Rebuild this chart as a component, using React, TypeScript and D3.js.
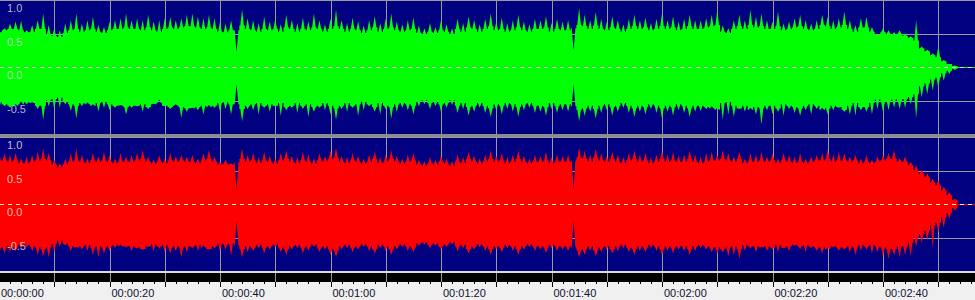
import React from "react";
import * as d3 from "d3";

// ---- data: one value per second of audio (amplitude 0..1) ----
// spike peaks above / below the centre line, and the dense "body" level
const greenUpper = [
  0.53, 0.58, 0.65, 0.68, 0.69, 0.55, 0.63, 0.70, 0.80, 0.63,
  0.58, 0.55, 0.65, 0.70, 0.80, 0.65, 0.70, 0.75, 0.63, 0.60,
  0.68, 0.70, 0.73, 0.80, 0.70, 0.73, 0.70, 0.78, 0.68, 0.70,
  0.73, 0.75, 0.70, 0.73, 0.78, 0.80, 0.75, 0.73, 0.78, 0.73,
  0.68, 0.65, 0.70, 0.22, 0.86, 0.73, 0.70, 0.66, 0.75, 0.68,
  0.72, 0.64, 0.78, 0.70, 0.66, 0.74, 0.68, 0.80, 0.70, 0.64,
  0.72, 0.86, 0.70, 0.66, 0.74, 0.68, 0.62, 0.70, 0.76, 0.66,
  0.72, 0.80, 0.68, 0.64, 0.70, 0.74, 0.62, 0.58, 0.66, 0.60,
  0.70, 0.64, 0.58, 0.72, 0.66, 0.76, 0.70, 0.64, 0.72, 0.80,
  0.68, 0.74, 0.66, 0.70, 0.78, 0.68, 0.64, 0.72, 0.70, 0.76,
  0.66, 0.72, 0.68, 0.70, 0.25, 0.88, 0.78, 0.70, 0.82, 0.72,
  0.68, 0.76, 0.70, 0.64, 0.72, 0.78, 0.70, 0.74, 0.66, 0.72,
  0.80, 0.70, 0.76, 0.68, 0.72, 0.78, 0.70, 0.70, 0.73, 0.78,
  0.85, 0.63, 0.58, 0.70, 0.78, 0.70, 0.85, 0.75, 0.80, 0.70,
  0.68, 0.83, 0.65, 0.68, 0.73, 0.78, 0.70, 0.65, 0.70, 0.78,
  0.75, 0.70, 0.73, 0.83, 0.70, 0.63, 0.73, 0.75, 0.60, 0.50,
  0.58, 0.55, 0.53, 0.55, 0.50, 0.46, 0.70, 0.31, 0.26, 0.21,
  0.31, 0.11, 0.05, 0.025, 0.0,
];
const greenLower = [
  0.63, 0.58, 0.60, 0.55, 0.50, 0.55, 0.52, 0.62, 0.78, 0.58,
  0.62, 0.60, 0.55, 0.65, 0.76, 0.58, 0.52, 0.55, 0.66, 0.60,
  0.64, 0.60, 0.56, 0.70, 0.60, 0.58, 0.66, 0.62, 0.54, 0.48,
  0.58, 0.62, 0.55, 0.75, 0.66, 0.60, 0.64, 0.70, 0.56, 0.60,
  0.66, 0.62, 0.70, 0.25, 0.80, 0.62, 0.64, 0.70, 0.60, 0.66,
  0.58, 0.72, 0.64, 0.60, 0.68, 0.62, 0.74, 0.66, 0.60, 0.64,
  0.70, 0.78, 0.62, 0.66, 0.60, 0.72, 0.64, 0.58, 0.66, 0.70,
  0.62, 0.76, 0.66, 0.60, 0.64, 0.70, 0.58, 0.55, 0.62, 0.58,
  0.66, 0.60, 0.56, 0.68, 0.62, 0.72, 0.66, 0.60, 0.68, 0.74,
  0.64, 0.70, 0.62, 0.66, 0.74, 0.64, 0.60, 0.68, 0.66, 0.72,
  0.62, 0.68, 0.64, 0.66, 0.25, 0.80, 0.72, 0.66, 0.76, 0.68,
  0.64, 0.72, 0.66, 0.60, 0.68, 0.74, 0.66, 0.70, 0.62, 0.68,
  0.76, 0.66, 0.72, 0.64, 0.68, 0.74, 0.66, 0.65, 0.62, 0.58,
  0.60, 0.78, 0.70, 0.74, 0.62, 0.66, 0.60, 0.70, 0.85, 0.64,
  0.70, 0.66, 0.72, 0.62, 0.68, 0.72, 0.64, 0.70, 0.62, 0.60,
  0.70, 0.64, 0.60, 0.66, 0.70, 0.72, 0.64, 0.66, 0.70, 0.62,
  0.66, 0.64, 0.60, 0.62, 0.60, 0.55, 0.76, 0.45, 0.40, 0.34,
  0.30, 0.20, 0.10, 0.04, 0.0,
];
const greenBody = [
  0.52, 0.55, 0.57, 0.57, 0.55, 0.52, 0.53, 0.57, 0.57, 0.49,
  0.47, 0.45, 0.51, 0.55, 0.57, 0.53, 0.55, 0.57, 0.53, 0.51,
  0.55, 0.57, 0.57, 0.59, 0.57, 0.57, 0.55, 0.59, 0.55, 0.53,
  0.57, 0.59, 0.57, 0.59, 0.61, 0.61, 0.59, 0.57, 0.59, 0.57,
  0.53, 0.52, 0.55, 0.55, 0.62, 0.57, 0.55, 0.53, 0.57, 0.55,
  0.57, 0.53, 0.59, 0.57, 0.53, 0.57, 0.55, 0.59, 0.57, 0.53,
  0.57, 0.61, 0.57, 0.53, 0.57, 0.55, 0.51, 0.55, 0.59, 0.53,
  0.57, 0.59, 0.55, 0.53, 0.55, 0.57, 0.51, 0.49, 0.53, 0.51,
  0.55, 0.53, 0.49, 0.57, 0.53, 0.59, 0.57, 0.53, 0.57, 0.61,
  0.55, 0.57, 0.53, 0.55, 0.59, 0.55, 0.53, 0.57, 0.57, 0.59,
  0.53, 0.57, 0.55, 0.55, 0.58, 0.63, 0.61, 0.57, 0.62, 0.57,
  0.55, 0.59, 0.57, 0.53, 0.57, 0.61, 0.57, 0.59, 0.55, 0.57,
  0.61, 0.57, 0.59, 0.55, 0.57, 0.61, 0.57, 0.57, 0.59, 0.61,
  0.63, 0.53, 0.51, 0.57, 0.61, 0.57, 0.63, 0.59, 0.61, 0.57,
  0.57, 0.61, 0.55, 0.57, 0.59, 0.61, 0.57, 0.55, 0.57, 0.63,
  0.61, 0.57, 0.59, 0.63, 0.57, 0.53, 0.59, 0.59, 0.53, 0.48,
  0.52, 0.50, 0.48, 0.50, 0.47, 0.44, 0.40, 0.28, 0.24, 0.18,
  0.15, 0.09, 0.05, 0.02, 0.0,
];
const redUpper = [
  0.78, 0.76, 0.73, 0.76, 0.68, 0.71, 0.73, 0.78, 0.83, 0.76,
  0.66, 0.61, 0.68, 0.76, 0.83, 0.73, 0.68, 0.76, 0.71, 0.78,
  0.73, 0.68, 0.76, 0.71, 0.73, 0.76, 0.81, 0.71, 0.66, 0.73,
  0.68, 0.76, 0.71, 0.73, 0.71, 0.73, 0.68, 0.76, 0.81, 0.71,
  0.63, 0.66, 0.61, 0.20, 0.83, 0.73, 0.76, 0.70, 0.78, 0.72,
  0.68, 0.76, 0.80, 0.72, 0.70, 0.78, 0.74, 0.68, 0.76, 0.72,
  0.80, 0.84, 0.72, 0.70, 0.76, 0.72, 0.68, 0.74, 0.78, 0.70,
  0.74, 0.80, 0.72, 0.68, 0.74, 0.76, 0.66, 0.64, 0.70, 0.66,
  0.72, 0.68, 0.64, 0.74, 0.70, 0.78, 0.72, 0.68, 0.74, 0.80,
  0.72, 0.76, 0.70, 0.74, 0.80, 0.72, 0.68, 0.74, 0.72, 0.78,
  0.70, 0.74, 0.72, 0.74, 0.22, 0.84, 0.80, 0.74, 0.82, 0.76,
  0.72, 0.78, 0.74, 0.70, 0.76, 0.80, 0.74, 0.76, 0.70, 0.74,
  0.80, 0.74, 0.78, 0.72, 0.74, 0.80, 0.74, 0.71, 0.76, 0.78,
  0.73, 0.81, 0.76, 0.71, 0.78, 0.68, 0.76, 0.73, 0.78, 0.71,
  0.76, 0.68, 0.76, 0.73, 0.71, 0.76, 0.68, 0.71, 0.73, 0.76,
  0.81, 0.73, 0.78, 0.76, 0.71, 0.73, 0.68, 0.73, 0.66, 0.71,
  0.73, 0.76, 0.81, 0.68, 0.71, 0.63, 0.58, 0.51, 0.46, 0.38,
  0.36, 0.26, 0.18, 0.08, 0.0,
];
const redLower = [
  0.79, 0.74, 0.72, 0.70, 0.66, 0.64, 0.70, 0.76, 0.78, 0.80,
  0.72, 0.64, 0.62, 0.70, 0.64, 0.68, 0.70, 0.76, 0.80, 0.74,
  0.70, 0.66, 0.60, 0.64, 0.70, 0.66, 0.68, 0.64, 0.70, 0.66,
  0.72, 0.74, 0.70, 0.80, 0.72, 0.66, 0.70, 0.62, 0.68, 0.66,
  0.70, 0.68, 0.78, 0.25, 0.80, 0.72, 0.70, 0.66, 0.74, 0.68,
  0.64, 0.72, 0.76, 0.68, 0.66, 0.74, 0.70, 0.64, 0.72, 0.68,
  0.76, 0.80, 0.68, 0.66, 0.72, 0.68, 0.64, 0.70, 0.74, 0.66,
  0.70, 0.76, 0.68, 0.64, 0.70, 0.72, 0.62, 0.60, 0.66, 0.62,
  0.68, 0.64, 0.60, 0.70, 0.66, 0.74, 0.68, 0.64, 0.70, 0.76,
  0.68, 0.72, 0.66, 0.70, 0.76, 0.68, 0.64, 0.70, 0.68, 0.74,
  0.66, 0.70, 0.68, 0.70, 0.25, 0.80, 0.76, 0.70, 0.78, 0.72,
  0.68, 0.74, 0.70, 0.66, 0.72, 0.76, 0.70, 0.72, 0.66, 0.70,
  0.76, 0.70, 0.74, 0.68, 0.70, 0.76, 0.70, 0.66, 0.68, 0.72,
  0.74, 0.72, 0.78, 0.76, 0.82, 0.70, 0.66, 0.72, 0.64, 0.70,
  0.68, 0.72, 0.66, 0.70, 0.62, 0.68, 0.72, 0.66, 0.70, 0.74,
  0.66, 0.64, 0.70, 0.68, 0.72, 0.76, 0.70, 0.68, 0.74, 0.72,
  0.78, 0.82, 0.76, 0.80, 0.76, 0.78, 0.64, 0.58, 0.55, 0.66,
  0.42, 0.36, 0.22, 0.10, 0.0,
];
const redBody = [
  0.65, 0.65, 0.63, 0.65, 0.61, 0.61, 0.63, 0.65, 0.67, 0.65,
  0.59, 0.55, 0.59, 0.63, 0.65, 0.63, 0.61, 0.65, 0.63, 0.65,
  0.63, 0.61, 0.63, 0.63, 0.63, 0.65, 0.67, 0.63, 0.60, 0.63,
  0.61, 0.65, 0.63, 0.65, 0.63, 0.63, 0.61, 0.65, 0.67, 0.63,
  0.59, 0.60, 0.59, 0.62, 0.67, 0.63, 0.65, 0.61, 0.65, 0.63,
  0.60, 0.65, 0.67, 0.63, 0.61, 0.65, 0.63, 0.60, 0.65, 0.63,
  0.67, 0.69, 0.63, 0.61, 0.65, 0.63, 0.60, 0.63, 0.67, 0.61,
  0.63, 0.67, 0.63, 0.60, 0.63, 0.65, 0.59, 0.57, 0.61, 0.59,
  0.63, 0.60, 0.57, 0.63, 0.61, 0.67, 0.63, 0.60, 0.63, 0.67,
  0.63, 0.65, 0.61, 0.63, 0.67, 0.63, 0.60, 0.63, 0.63, 0.65,
  0.61, 0.63, 0.63, 0.63, 0.65, 0.69, 0.67, 0.63, 0.69, 0.65,
  0.63, 0.67, 0.63, 0.61, 0.65, 0.67, 0.63, 0.65, 0.61, 0.63,
  0.67, 0.63, 0.65, 0.63, 0.63, 0.67, 0.63, 0.61, 0.63, 0.65,
  0.65, 0.67, 0.65, 0.63, 0.67, 0.61, 0.63, 0.63, 0.65, 0.63,
  0.65, 0.61, 0.65, 0.63, 0.61, 0.63, 0.61, 0.63, 0.65, 0.65,
  0.67, 0.63, 0.65, 0.65, 0.63, 0.65, 0.61, 0.63, 0.61, 0.63,
  0.65, 0.67, 0.67, 0.63, 0.63, 0.58, 0.50, 0.45, 0.40, 0.32,
  0.28, 0.20, 0.13, 0.06, 0.0,
];

const timeLabelSeconds = [0, 20, 40, 60, 80, 100, 120, 140, 160];
const timeLabels = [
  "00:00:00", "00:00:20", "00:00:40", "00:01:00", "00:01:20",
  "00:01:40", "00:02:00", "00:02:20", "00:02:40",
];
const ampLabelValues = [1.0, 0.5, 0.0, -0.5];
const ampLabels = ["1.0", "0.5", "0.0", "-0.5"];

// ---- layout ----
const W = 975;
const H = 300;
const NAVY = "#000080";
const GRID = "#9a9a9a";
const FONT = "'Liberation Sans', Arial, sans-serif";
const SPIKE = 0.33; // half-width of a peak, in seconds

const x = d3.scaleLinear().domain([0, 176.65]).range([-1, 975]);
const yTop = d3.scaleLinear().domain([-1, 1]).range([134.6, 0]);
const yBot = d3.scaleLinear().domain([-1, 1]).range([271, 137]);

type Panel = {
  y: d3.ScaleLinear<number, number>;
  upper: number[];
  lower: number[];
  body: number[];
  color: string;
  dash: string;
  label: string;
  top: number;
  bottom: number;
};

const panels: Panel[] = [
  { y: yTop, upper: greenUpper, lower: greenLower, body: greenBody, color: "#00ff00", dash: "#dcdcdc", label: "#d8d8d8", top: 0, bottom: 134 },
  { y: yBot, upper: redUpper, lower: redLower, body: redBody, color: "#ff0000", dash: "#f4ecb8", label: "#e8e0c8", top: 137, bottom: 271 },
];

const majorTicks = d3.range(0, 177, 10);
const minorTicks = d3.range(0, 177, 2).filter((t) => t % 10 !== 0);

type Pt = { t: number; up: number; lo: number };

// each second: dense body level, with the second's peak (or dip) at its centre
function buildPoints(p: Panel): Pt[] {
  const pts: Pt[] = [];
  p.upper.forEach((u, i) => {
    const b = p.body[i];
    pts.push({ t: i - 0.5, up: b, lo: b });
    pts.push({ t: i - SPIKE, up: b, lo: b });
    pts.push({ t: i, up: u, lo: p.lower[i] });
    pts.push({ t: i + SPIKE, up: b, lo: b });
    pts.push({ t: i + 0.5, up: b, lo: b });
  });
  return pts.filter((d) => d.t >= 0);
}

function PanelView({ p }: { p: Panel }) {
  const area = d3
    .area<Pt>()
    .x((d) => x(d.t))
    .y0((d) => p.y(-d.lo))
    .y1((d) => p.y(d.up))
    .curve(d3.curveLinear);
  const c = Math.round(p.y(0)) + 0.5;
  return (
    <g>
      <rect x={0} y={p.top} width={W} height={p.bottom - p.top} fill={NAVY} />
      {majorTicks.map((t) => (
        <line key={t} x1={Math.round(x(t)) + 0.5} x2={Math.round(x(t)) + 0.5} y1={p.top} y2={p.bottom} stroke={GRID} strokeWidth={1} />
      ))}
      {[0.5, -0.5, 1].map((v) => (
        <line key={v} x1={0} x2={W} y1={Math.round(p.y(v)) + 0.5} y2={Math.round(p.y(v)) + 0.5} stroke={GRID} strokeWidth={1} />
      ))}
      <line x1={0} x2={W} y1={c} y2={c} stroke={p.color} strokeWidth={1} />
      <path d={area(buildPoints(p)) || ""} fill={p.color} />
      <line x1={0} x2={W} y1={c} y2={c} stroke={p.dash} strokeWidth={1} strokeDasharray="4,4" />
      {ampLabelValues.map((v, i) => (
        <text key={v} x={7} y={Math.round(p.y(v)) + 12} fontFamily={FONT} fontSize={11} fill={p.label} fillOpacity={0.85}>
          {ampLabels[i]}
        </text>
      ))}
    </g>
  );
}

export default function App() {
  return (
    <svg width={W} height={H} style={{ position: "absolute", left: 0, top: 0, display: "block" }}>
      <rect x={0} y={0} width={W} height={H} fill="#f0f0f0" />
      <PanelView p={panels[0]} />
      <rect x={0} y={134} width={W} height={3} fill="#8c8c8c" />
      <PanelView p={panels[1]} />
      <rect x={0} y={271} width={W} height={2} fill="#dcdcdc" />
      <rect x={0} y={273} width={W} height={9} fill="#000000" />
      {majorTicks.map((t) => (
        <g key={t}>
          <line x1={Math.round(x(t)) + 0.5} x2={Math.round(x(t)) + 0.5} y1={273} y2={282} stroke={GRID} />
          <line x1={Math.round(x(t)) + 0.5} x2={Math.round(x(t)) + 0.5} y1={282} y2={287} stroke="#000" />
        </g>
      ))}
      {minorTicks.map((t) => (
        <line key={t} x1={Math.round(x(t)) + 0.5} x2={Math.round(x(t)) + 0.5} y1={282} y2={284} stroke="#000" />
      ))}
      {timeLabelSeconds.map((t, i) => (
        <text key={t} x={Math.max(1, x(t) + 2)} y={297} fontFamily={FONT} fontSize={11} fill="#101030">
          {timeLabels[i]}
        </text>
      ))}
    </svg>
  );
}
